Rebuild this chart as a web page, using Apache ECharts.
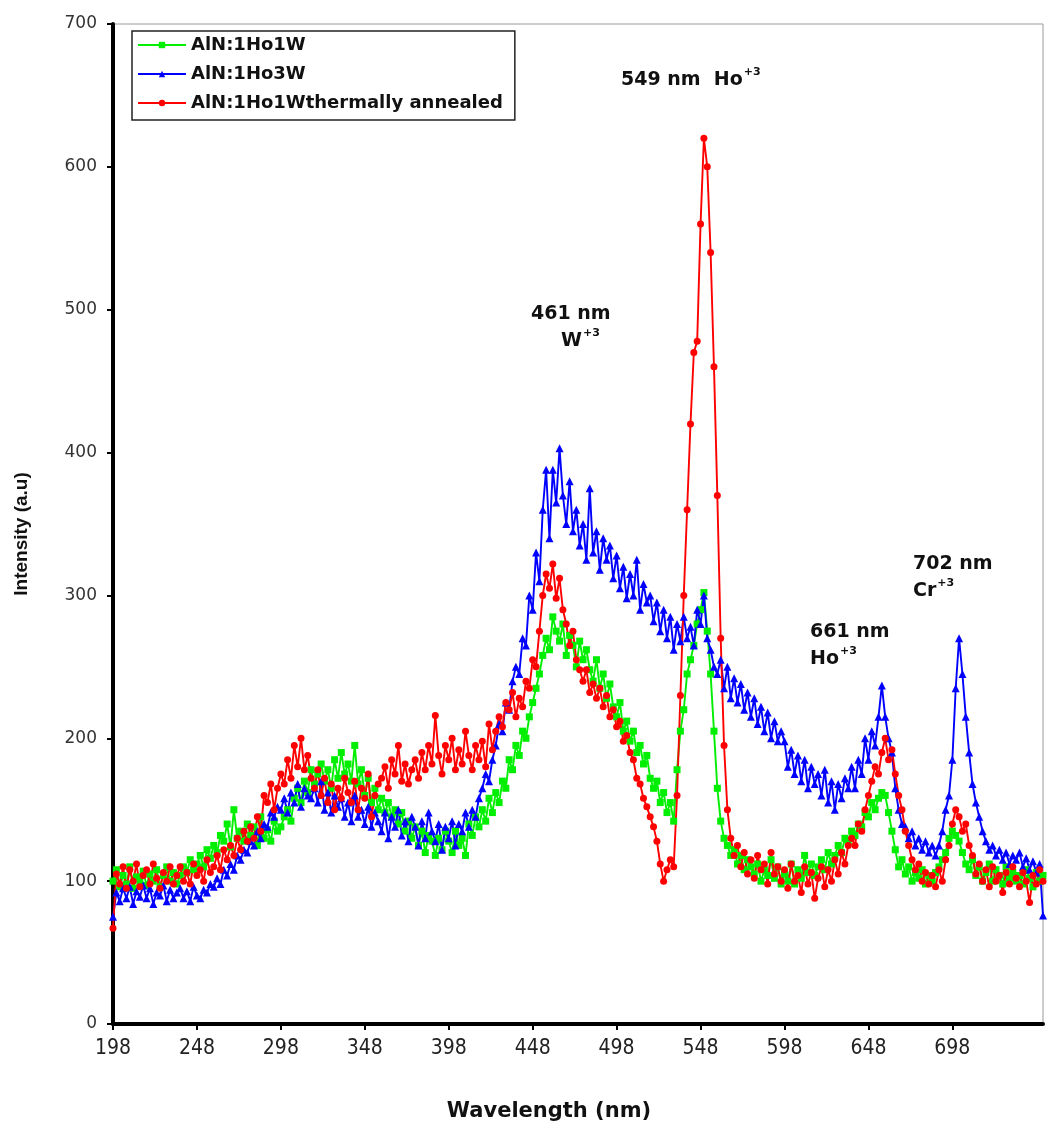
<!DOCTYPE html>
<html>
<head>
<meta charset="utf-8">
<title>Photoluminescence spectra of AlN:Ho,W films</title>
<script src="https://cdn.jsdelivr.net/npm/echarts/dist/echarts.min.js"></script>
<style>
  html, body { margin: 0; padding: 0; background: #ffffff; }
  #chart { width: 1057px; height: 1126px; }
</style>
</head>
<body>
<div id="chart"></div>
<script>
// Wavelength grid (nm): 198 … 752 in 2 nm steps
const WL_FIRST = 198;
const WL_LAST = 752;
const WL_STEP = 2;
const wavelengths = [];
for (let w = WL_FIRST; w <= WL_LAST; w += WL_STEP) wavelengths.push(String(w));

// Every 25th grid point gets a tick label (198, 248, … 748)
const xLabelEvery = 25;
const yTicks = [0, 100, 200, 300, 400, 500, 600, 700];

const seriesNames = ['AlN:1Ho1W', 'AlN:1Ho3W', 'AlN:1Ho1Wthermally annealed'];

// Intensity (a.u.), one row = 10 points = 20 nm, row start wavelength in the comment
const ho1w = [
  100,108,96,104,98,110,95,103,99,107,      // 198
  97,105,100,108,96,104,110,100,106,98,     // 218
  104,110,106,115,108,112,118,110,122,116,  // 238
  125,120,132,128,140,124,150,130,135,128,  // 258
  140,132,138,125,145,130,136,128,142,135,  // 278
  138,145,150,142,158,165,155,170,162,178,  // 298
  168,175,182,170,178,165,185,172,190,175,  // 318
  182,170,195,168,178,160,172,155,165,150,  // 338
  158,148,155,145,150,140,148,135,142,130,  // 358
  138,125,135,120,132,128,118,130,122,135,  // 378
  128,120,135,125,130,118,140,132,145,138,  // 398
  150,142,158,148,162,155,170,165,185,178,  // 418
  195,188,205,200,215,225,235,245,258,270,  // 438
  262,285,275,268,280,258,272,265,250,268,  // 458
  255,262,248,240,255,235,245,228,238,222,  // 478
  215,225,205,212,198,205,190,195,182,188,  // 498
  172,165,170,155,162,148,155,142,178,205,  // 518
  220,245,255,265,280,290,302,275,245,205,  // 538
  165,142,130,125,118,122,112,118,108,115,  // 558
  110,105,112,100,108,104,115,102,110,98,   // 578
  105,100,112,98,108,102,118,106,112,104,   // 598
  110,115,108,120,112,118,125,120,130,128,  // 618
  135,132,140,138,148,145,155,150,158,162,  // 638
  160,148,135,122,110,115,105,110,100,106,  // 658
  102,108,98,104,100,106,110,115,120,130,   // 678
  135,132,128,120,112,108,115,104,110,100,  // 698
  106,112,100,108,104,98,110,102,106,100,   // 718
  104,98,108,102,96,106,100,104             // 738
];

const ho3w = [
  75,92,86,95,88,96,84,93,89,97,            // 198
  88,95,84,92,90,97,86,94,88,92,            // 218
  95,88,93,86,96,90,88,94,92,98,            // 238
  96,102,98,108,104,112,108,118,115,122,    // 258
  120,128,125,135,130,140,138,148,145,152,  // 278
  150,158,148,162,155,168,152,165,160,158,  // 298
  165,155,170,150,162,148,160,152,158,145,  // 318
  155,142,160,145,150,140,152,138,148,142,  // 338
  135,148,130,145,138,150,132,142,128,145,  // 358
  138,125,142,130,148,135,128,140,122,138,  // 378
  130,142,125,140,135,148,138,150,145,158,  // 398
  165,175,170,185,195,210,205,225,220,240,  // 418
  250,245,270,265,300,290,330,310,360,388,  // 438
  340,388,365,403,370,350,380,345,360,335,  // 458
  350,325,375,330,345,318,340,325,335,312,  // 478
  328,305,320,298,315,300,325,290,308,295,  // 498
  300,282,295,275,290,270,285,262,280,268,  // 518
  285,270,278,265,290,280,300,270,262,250,  // 538
  245,255,235,250,228,242,225,238,220,232,  // 558
  215,228,210,222,205,218,200,212,198,205,  // 578
  198,180,192,175,188,170,185,165,180,168,  // 598
  175,160,178,155,170,150,168,158,172,165,  // 618
  180,165,185,175,200,185,205,195,215,237,  // 638
  215,200,190,165,150,140,138,130,135,125,  // 658
  130,122,128,120,125,118,125,135,150,160,  // 678
  185,235,270,245,215,190,168,155,145,135,  // 698
  128,122,125,118,122,115,120,112,118,115,  // 718
  120,110,116,108,114,106,112,76            // 738
];

const ho1wAnnealed = [
  67,105,98,110,95,108,100,112,96,104,      // 198
  108,98,112,102,95,106,100,110,98,104,     // 218
  110,100,106,98,112,104,108,100,115,106,   // 238
  110,118,108,122,115,125,118,130,122,135,  // 258
  128,138,130,145,135,160,155,168,150,165,  // 278
  175,168,185,172,195,180,200,178,188,172,  // 298
  165,178,160,172,155,168,150,165,158,172,  // 318
  162,155,170,150,165,158,175,145,160,168,  // 338
  172,180,165,185,175,195,170,182,168,178,  // 358
  185,172,190,178,195,182,216,188,175,195,  // 378
  185,200,178,192,182,205,188,178,195,185,  // 398
  198,180,210,192,205,215,208,225,220,232,  // 418
  215,228,222,240,235,255,250,275,300,315,  // 438
  305,322,298,312,290,280,265,275,255,248,  // 458
  240,248,232,238,228,235,222,230,215,220,  // 478
  208,212,198,202,190,185,172,168,158,152,  // 498
  145,138,128,112,100,108,115,110,160,230,  // 518
  300,360,420,470,478,560,620,600,540,460,  // 538
  370,270,195,150,130,118,125,110,120,105,  // 558
  115,102,118,108,112,98,120,105,110,100,   // 578
  108,95,112,100,104,92,110,98,106,88,      // 598
  102,110,96,108,100,115,105,120,112,125,   // 618
  130,125,140,135,150,160,170,180,175,190,  // 638
  200,185,192,175,160,150,135,125,115,108,  // 658
  112,100,106,98,104,96,108,100,115,125,    // 678
  140,150,145,135,140,125,118,105,112,100,  // 698
  108,96,110,100,104,92,106,98,110,102,     // 718
  96,106,100,85,104,98,108,100              // 738
];

// Peak annotations: wavelength line, ion symbol and its charge as a superscript
const peakNotes = [
  { line1: '549 nm  Ho', sup: '+3', left: 621, top: 71, inline: true },
  { line1: '461 nm', line2: 'W', sup: '+3', left: 531, top: 305, indent: 30 },
  { line1: '661 nm', line2: 'Ho', sup: '+3', left: 810, top: 623, indent: 0 },
  { line1: '702 nm', line2: 'Cr', sup: '+3', left: 913, top: 555, indent: 0 }
];

const chart = echarts.init(document.getElementById('chart'), null, { renderer: 'canvas' });

const noteFont = 'bold 19px "DejaVu Sans", sans-serif';
const supFont = 'bold 11px "DejaVu Sans", sans-serif';

function measure(text, font) {
  const c = document.createElement('canvas').getContext('2d');
  c.font = font;
  return c.measureText(text).width;
}

const graphics = [];
peakNotes.forEach(n => {
  graphics.push({
    type: 'text', x: n.left, y: n.top, silent: true,
    style: { text: n.line1, font: noteFont, fill: '#111', align: 'left', verticalAlign: 'top' }
  });
  if (n.inline) {
    const w = measure(n.line1, noteFont);
    graphics.push({
      type: 'text', x: n.left + w + 1, y: n.top - 4, silent: true,
      style: { text: n.sup, font: supFont, fill: '#111', align: 'left', verticalAlign: 'top' }
    });
  } else {
    const x2 = n.left + n.indent;
    const y2 = n.top + 27;
    const w = measure(n.line2, noteFont);
    graphics.push({
      type: 'text', x: x2, y: y2, silent: true,
      style: { text: n.line2, font: noteFont, fill: '#111', align: 'left', verticalAlign: 'top' }
    });
    graphics.push({
      type: 'text', x: x2 + w + 1, y: y2 - 4, silent: true,
      style: { text: n.sup, font: supFont, fill: '#111', align: 'left', verticalAlign: 'top' }
    });
  }
});

// Axis titles
graphics.push({
  type: 'text', x: 549, y: 1112, silent: true,
  style: { text: 'Wavelength (nm)', font: 'bold 21px "DejaVu Sans", sans-serif', fill: '#111', align: 'center', verticalAlign: 'middle' }
});
graphics.push({
  type: 'text', x: 22, y: 534, rotation: Math.PI / 2, silent: true,
  style: { text: 'Intensity (a.u)', font: 'bold 19px "Liberation Sans", sans-serif', fill: '#111', align: 'center', verticalAlign: 'middle' }
});

function lineSeries(name, data, color, symbol, size) {
  return {
    name, type: 'line', data,
    symbol, symbolSize: size, showAllSymbol: true,
    lineStyle: { color, width: 1.9 },
    itemStyle: { color, borderWidth: 0 },
    emphasis: { disabled: true },
    animation: false
  };
}

chart.setOption({
  backgroundColor: '#ffffff',
  animation: false,
  grid: {
    left: 113, right: 14, top: 24, bottom: 102,
    show: true, borderColor: '#9a9a9a', borderWidth: 1, backgroundColor: 'transparent'
  },
  legend: {
    orient: 'vertical',
    left: 132, top: 31,
    padding: [5, 12, 8, 5],
    itemGap: 11,
    itemWidth: 48, itemHeight: 8,
    borderColor: '#222', borderWidth: 1.5,
    backgroundColor: '#ffffff',
    textStyle: { fontFamily: '"DejaVu Sans", sans-serif', fontWeight: 'bold', fontSize: 18, color: '#111', lineHeight: 18 },
    data: seriesNames
  },
  xAxis: {
    type: 'category',
    data: wavelengths,
    boundaryGap: false,
    axisLine: { show: true, lineStyle: { color: '#000', width: 4 } },
    axisTick: { show: true, interval: xLabelEvery - 1, length: 6, lineStyle: { color: '#000', width: 2 } },
    axisLabel: {
      interval: xLabelEvery - 1, margin: 14, showMaxLabel: false,
      fontFamily: '"Liberation Sans Narrow", "DejaVu Sans Condensed", sans-serif',
      fontSize: 21, color: '#222'
    },
    splitLine: { show: false }
  },
  yAxis: {
    type: 'value',
    min: yTicks[0], max: yTicks[yTicks.length - 1], interval: yTicks[1] - yTicks[0],
    axisLine: { show: true, lineStyle: { color: '#000', width: 4 } },
    axisTick: { show: true, length: 6, lineStyle: { color: '#000', width: 2 } },
    axisLabel: { margin: 16, fontFamily: '"DejaVu Sans", sans-serif', fontSize: 17, color: '#333' },
    splitLine: { show: false }
  },
  series: [
    lineSeries(seriesNames[0], ho1w, '#00ee00', 'rect', 7),
    lineSeries(seriesNames[1], ho3w, '#0000ff', 'triangle', 8),
    lineSeries(seriesNames[2], ho1wAnnealed, '#ff0000', 'circle', 7)
  ],
  graphic: graphics
});
</script>
</body>
</html>
